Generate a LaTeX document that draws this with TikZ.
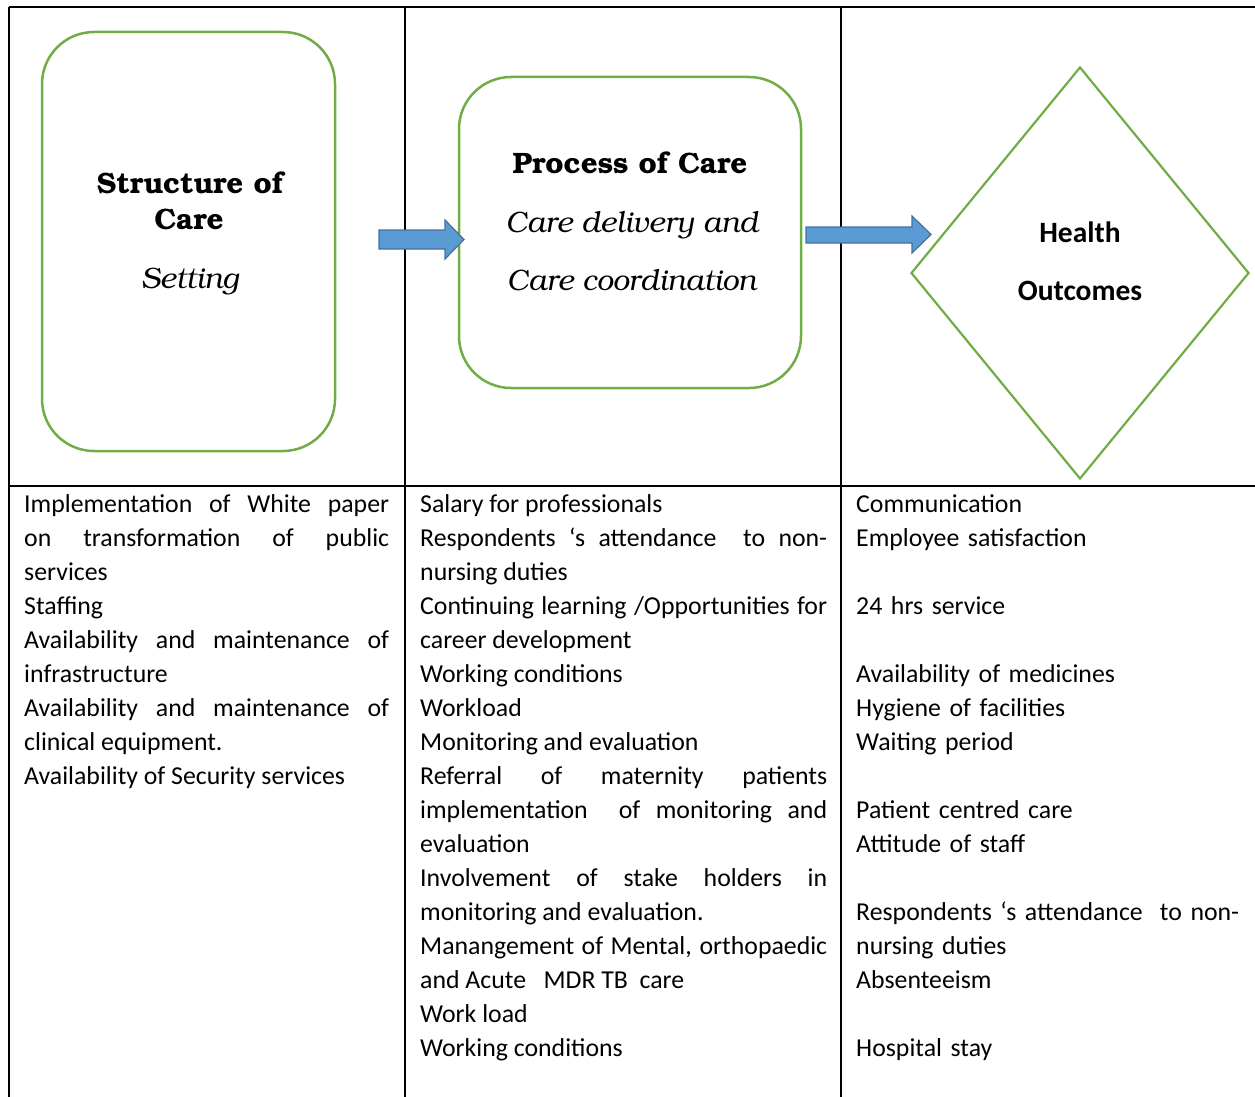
\documentclass[tikz,border=0pt]{standalone}
\usepackage[T1]{fontenc}
\usepackage{fontspec}
\setmainfont{Carlito}
\usetikzlibrary{shapes.geometric}

\definecolor{leafgreen}{RGB}{112,173,71}
\definecolor{flowblue}{RGB}{91,155,213}
\definecolor{flowedge}{RGB}{65,113,156}

% Bookman for the box headings, Carlito for the lists
\newcommand{\bookman}{\fontencoding{T1}\fontfamily{pbk}\fontsize{29.5}{36}\selectfont}
\newcommand{\listfont}{\fontsize{25.8}{34}\selectfont}
\newcommand{\looselines}{\tolerance=9999\relax\hyphenpenalty=10000\relax\hbadness=10000\relax}

\tikzset{
  grid/.style={line width=2pt, black},
  carebox/.style={draw=leafgreen, line width=2.5pt, rounded corners=52pt, inner sep=0pt},
  outcome/.style={diamond, draw=leafgreen, line width=2.2pt, inner sep=0pt},
  flow/.style={fill=flowblue, draw=flowedge, line width=1.2pt, line join=miter},
  head/.style={anchor=base, inner sep=0pt, font=\bookman},
  bold/.style={anchor=base, inner sep=0pt, font=\fontsize{29.5}{34}\selectfont\bfseries},
  cell/.style={anchor=north west, inner sep=0pt, text width=#1, align=justify,
    font=\listfont},
  raggedcell/.style={anchor=north west, inner sep=0pt, text width=#1, align=left,
    font=\listfont},
}

\begin{document}
\begin{tikzpicture}[x=1pt, y=-1pt]
  \useasboundingbox (0,0) rectangle (1255,1097);

  % table rules
  \draw[grid] (9,7) -- (1255,7);
  \draw[grid] (9,486) -- (1255,486);
  \draw[grid] (9,7) -- (9,1097);
  \draw[grid] (405,7) -- (405,1097);
  \draw[grid] (841,7) -- (841,1097);

  % the three stages
  \node[carebox, minimum width=293, minimum height=419] (structure) at (188.5,241.5) {};
  \node[carebox, minimum width=342, minimum height=311] (process) at (630,232.5) {};
  \node[outcome, minimum width=338, minimum height=412] (outcomes) at (1080,273) {};

  \node[head] (structtitle) at (190,193) {\bfseries Structure of};
  \node[head] (structcare) at (189,229) {\bfseries Care};
  \node[head] (structsetting) at (190,288) {\itshape Setting};

  \node[head] (proctitle) at (630,173) {\bfseries Process of Care};
  \node[head] (procdelivery) at (632,232) {\itshape Care delivery and};
  \node[head] (proccoord) at (631.5,290) {\itshape Care coordination};

  \node[bold] (healthword) at (1080,242) {Health};
  \node[bold] (outcomeword) at (1080,300) {Outcomes};

  % block arrows between the stages
  \draw[flow] (379,230) -- (445,230) -- (445,220) -- (464,239.5)
    -- (445,259) -- (445,249) -- (379,249) -- cycle;
  \draw[flow] (806,227) -- (912,227) -- (912,216) -- (931,234.5)
    -- (912,253) -- (912,243) -- (806,243) -- cycle;

  % lists under each stage
  \node[cell=365pt] (structlist) at (24,488) {\looselines\strut
    Implementation of White paper\linebreak on transformation of public\linebreak services\par
    Staffing\par
    Availability and maintenance of\linebreak infrastructure\par
    Availability and maintenance of\linebreak clinical equipment.\par
    Availability of Security services};

  \node[cell=407pt] (proclist) at (420,488) {\looselines\strut
    Salary for professionals\par
    Respondents ‘s attendance\ \ to non-\linebreak nursing duties\par
    Continuing learning /Opportunities for\linebreak career development\par
    Working conditions\par
    Workload\par
    Monitoring and evaluation\par
    Referral of maternity patients\linebreak implementation\ \ of monitoring and\linebreak evaluation\par
    Involvement of stake holders in\linebreak monitoring and evaluation.\par
    Manangement of Mental, orthopaedic\linebreak and Acute\ \ \ MDR TB\ \ care\par
    Work load\par
    Working conditions};

  \node[raggedcell=395pt] (outlist) at (856,488) {\strut
    Communication\\
    Employee satisfaction\\
    \mbox{}\\
    24 hrs service\\
    \mbox{}\\
    Availability of medicines\\
    Hygiene of facilities\\
    Waiting period\\
    \mbox{}\\
    Patient centred care\\
    Attitude of staff\\
    \mbox{}\\
    Respondents ‘s attendance\ \ to non-\\
    nursing duties\\
    Absenteeism\\
    \mbox{}\\
    Hospital stay};
\end{tikzpicture}
\end{document}
